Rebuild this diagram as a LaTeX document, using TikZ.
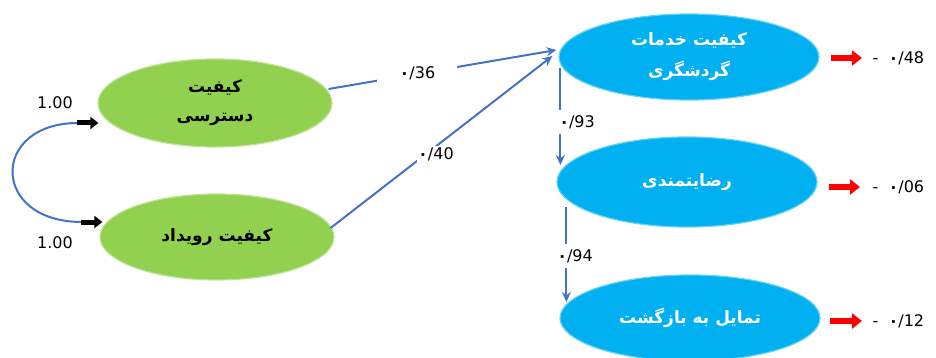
\documentclass[tikz,border=0pt]{standalone}
\usepackage{fontspec}
\usetikzlibrary{shapes.geometric,arrows.meta,calc}
\TeXXeTstate=1
\newfontfamily\arfont[Script=Arabic]{DejaVu Sans}
\newfontfamily\numfont{DejaVu Sans}
\definecolor{grn}{HTML}{92D050}
\definecolor{blu}{HTML}{00B0F0}
\definecolor{lnk}{HTML}{4472C4}
\newcommand{\pz}{{\bfseries ۰}}
\tikzset{
  greenell/.style={ellipse, fill=grn, draw=grn!60!white, line width=1.2pt, inner sep=0pt,
    minimum width=234pt, minimum height=88pt, align=center,
    font=\arfont\bfseries\fontsize{17}{29}\selectfont, text=black},
  blueell/.style={ellipse, fill=blu, draw=blu!60!white, line width=1.2pt, inner sep=0pt,
    minimum width=260pt, minimum height=88pt, align=center,
    font=\arfont\bfseries\fontsize{17}{31}\selectfont, text=white},
  lbl/.style={font=\numfont\fontsize{16}{18}\selectfont, inner sep=1.5pt},
  gaplbl/.style={lbl, fill=white},
  bluearrow/.style={draw=lnk, line width=2pt, -{Stealth[length=10pt,width=9pt]}},
  redarrow/.style={draw=red, line width=6pt, -{Triangle[length=10pt,width=15pt]}},
  blackarrow/.style={draw=black, line width=5pt, -{Triangle[length=8pt,width=12pt]}},
}
\begin{document}
\begin{tikzpicture}[x=1pt,y=-1pt]
\useasboundingbox (0,0) rectangle (936,358);

\node[greenell] (g1) at (215,103) {\beginR کیفیت\endR\\\beginR دسترسی\endR};
\node[greenell, minimum height=86pt] (g2) at (217,237) {\beginR کیفیت رویداد\endR};
\node[blueell, minimum height=86pt] (b1) at (689,57) {\beginR کیفیت خدمات\endR\\\beginR گردشگری\endR};
\node[blueell, minimum height=90pt] (b2) at (687,182) {\beginR رضایتمندی\endR};
\node[blueell, minimum height=86pt] (b3) at (690,318) {\beginR تمایل به بازگشت\endR};

% correlation between exogenous variables
\coordinate (ca) at (78,123);
\coordinate (cb) at (82,222);
\draw[lnk, line width=2pt] (ca) .. controls (-10,123) and (-10,222) .. (cb);
\draw[blackarrow] ($(ca)+(-1,0)$) -- ($(ca -| g1.west)+(1,0)$);
\draw[blackarrow] ($(cb)+(-1,0)$) -- ($(cb -| g2.west)+(3,0)$);
\node[lbl] (v1) at (55,103) {1.00};
\node[lbl] (v2) at (55,243) {1.00};

% structural paths
\draw[bluearrow] ($(g1.east)+(-4,-14)$) -- node[gaplbl, pos=0.39, minimum width=80pt] {\pz/36} ($(b1.west)+(-2,-7)$);
\draw[bluearrow] ($(g2.east)+(-4,-9)$) -- node[gaplbl, pos=0.43, xshift=10pt] {\pz/40} ($(b1.west)+(-6,-1)$);
\coordinate (s93) at ($(b1.west)+(2,11)$);
\draw[bluearrow] (s93) -- ($(s93)+(0,97)$);
\node[gaplbl, minimum height=24pt] (p93) at (577,122) {\pz/93};
\coordinate (s94) at ($(b2.west)+(10,25)$);
\draw[bluearrow] (s94) -- ($(s94)+(0,95)$);
\node[gaplbl, minimum height=24pt] (p94) at (575,256) {\pz/94};

% residual arrows
\node[lbl, anchor=west] (e1) at (871,58) {-\ \ \pz/48};
\node[lbl, anchor=west] (e2) at (871,187) {-\ \ \pz/06};
\node[lbl, anchor=west] (e3) at (871,321) {-\ \ \pz/12};
\draw[redarrow] ($(b1.east)+(11,1)$) -- ($(e1.west)+(-9,0)$);
\draw[redarrow] ($(b2.east)+(11,5)$) -- ($(e2.west)+(-11,0)$);
\draw[redarrow] ($(b3.east)+(9,3)$) -- ($(e3.west)+(-9,0)$);
\end{tikzpicture}
\end{document}
